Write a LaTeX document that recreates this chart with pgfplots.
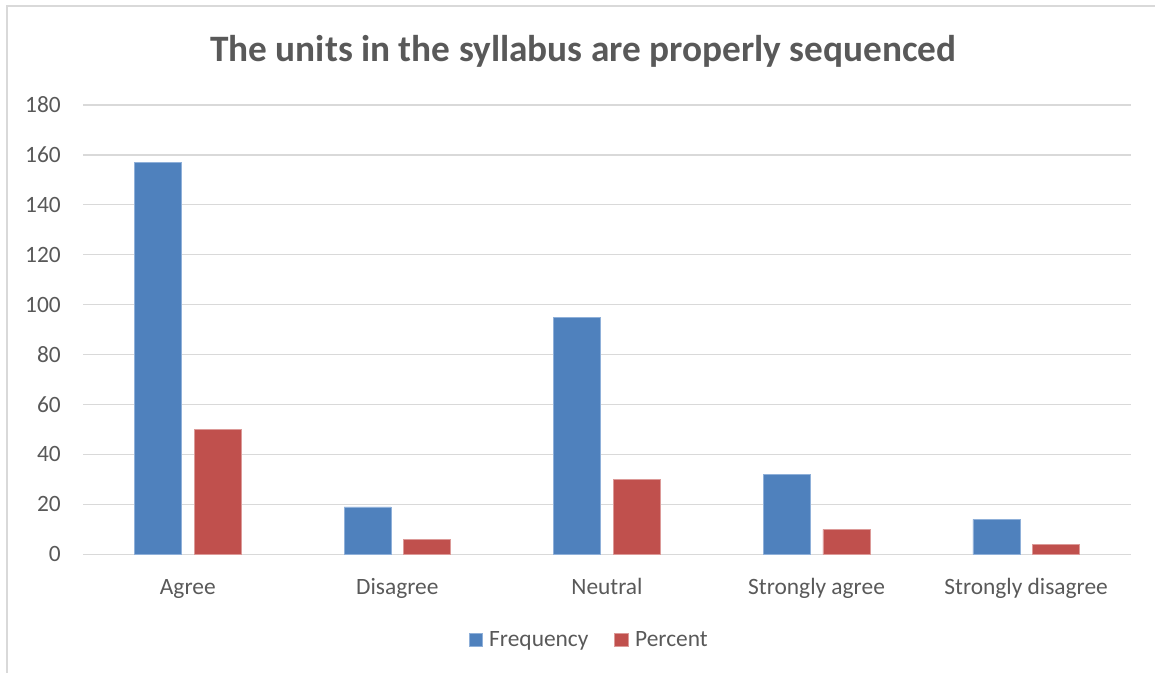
\documentclass[border=0pt]{standalone}
\usepackage{pgfplots}
\pgfplotsset{compat=1.18}
\usepackage{fontspec}
\setmainfont{Carlito}
\definecolor{txt}{HTML}{595959}
\definecolor{gridc}{HTML}{D9D9D9}
\definecolor{fblue}{HTML}{4F81BD}
\definecolor{fred}{HTML}{C0504D}
\definecolor{fblueedge}{HTML}{8FB0D9}
\definecolor{frededge}{HTML}{DC9A98}
\begin{document}
\begin{tikzpicture}
\path[use as bounding box] (0,0) rectangle (1155bp,673bp);
\draw[gridc, line width=1.2bp] (7bp,0) -- (7bp,667bp) -- (1160bp,667bp);
\begin{axis}[
  at={(83bp,118.7bp)}, anchor=south west,
  scale only axis, width=1048bp, height=449.3bp,
  ybar=12.6bp, bar width=47bp,
  xmin=-0.5, xmax=4.5, ymin=0, ymax=180,
  xtick=data,
  xticklabels={Agree,Disagree,Neutral,Strongly agree,Strongly disagree},
  ytick={0,20,...,180},
  ymajorgrids, grid style={gridc, line width=1.2bp},
  axis line style={draw=none},
  major tick length=0pt,
  font=\fontsize{23.4bp}{28bp}\selectfont,
  /pgf/number format/assume math mode=true,
  tick label style={text=txt},
  yticklabel style={anchor=east, inner sep=0pt, xshift=-22bp},
  xticklabel style={anchor=base, inner sep=0pt, yshift=-40.5bp},
  title={The units in the syllabus are properly sequenced},
  title style={at={(0.4775,1.0830)}, anchor=base, inner sep=0pt, text=txt,
    font=\bfseries\fontsize{37.3bp}{42bp}\selectfont},
  legend columns=2,
  legend style={at={(0.482,-0.1907)}, anchor=center, draw=none, fill=none,
    nodes={inner sep=0pt, text=txt, font=\fontsize{23.4bp}{28bp}\selectfont},
    /tikz/every odd column/.append style={column sep=6.6bp},
    /tikz/every even column/.append style={column sep=26bp}},
  legend cell align=left,
  legend image code/.code={\fill[#1] (0bp,-6.7bp) rectangle (13.4bp,6.7bp);},
]
\addplot[fill=fblue, draw=fblueedge, line width=0.7bp] coordinates {(0,157) (1,19) (2,95) (3,32) (4,14)};
\addplot[fill=fred, draw=frededge, line width=0.7bp] coordinates {(0,50) (1,6) (2,30) (3,10) (4,4)};
\legend{Frequency,Percent}
\end{axis}
\end{tikzpicture}
\end{document}
